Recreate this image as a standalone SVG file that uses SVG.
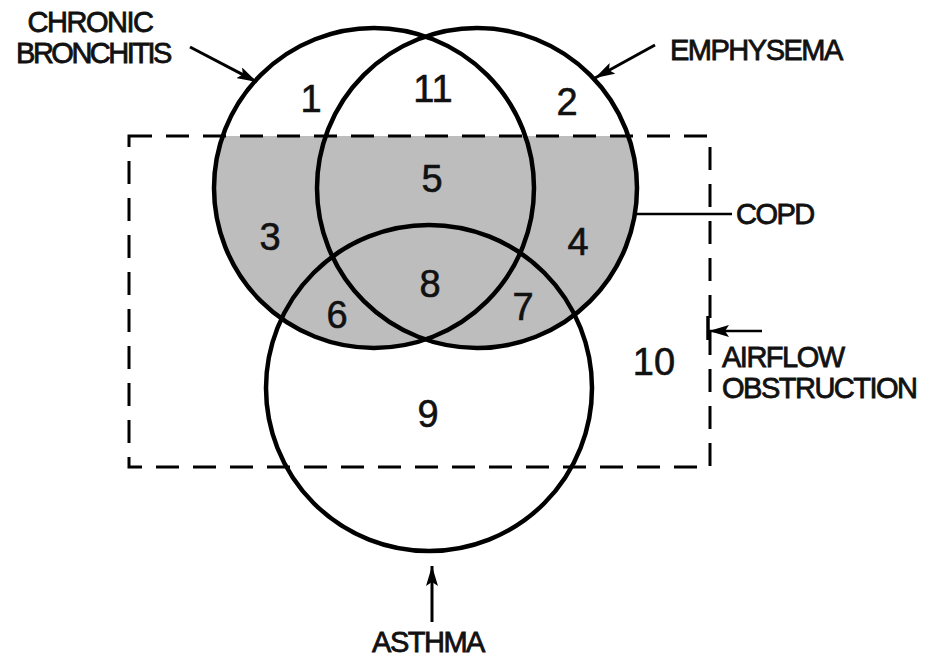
<svg xmlns="http://www.w3.org/2000/svg" width="928" height="657" viewBox="0 0 928 657">
  <style>
    .ring { fill: none; stroke: #000; stroke-width: 4.5; }
    .box { fill: none; stroke: #000; stroke-width: 3; stroke-dasharray: 23 14; }
    .num { font-family: "Liberation Sans", Arial, sans-serif; font-size: 38px; fill: #111; stroke: #111; stroke-width: 0.6; text-anchor: middle; }
    .lbl { font-family: "Liberation Sans", Arial, sans-serif; font-size: 29px; fill: #111; stroke: #111; stroke-width: 0.8; letter-spacing: -1.5px; }
    .lead { stroke: #000; stroke-width: 2.5; fill: none; }
    .arrow { stroke: #000; stroke-width: 3; fill: none; marker-end: url(#head); }
  </style>
  <defs>
    <marker id="head" markerUnits="userSpaceOnUse" markerWidth="22" markerHeight="12" refX="20" refY="6" orient="auto">
      <path d="M0,0 L20,6 L0,12 L4,6 z" fill="#000"/>
    </marker>
    <clipPath id="inBox">
      <rect x="129" y="136" width="581" height="331"/>
    </clipPath>
  </defs>

  <rect width="928" height="657" fill="#fff"/>

  <!-- COPD shading: bronchitis ∪ emphysema within the obstruction box -->
  <g id="copd-area" clip-path="url(#inBox)" fill="#bdbdbd">
    <circle cx="374" cy="188" r="160"/>
    <circle cx="477" cy="188" r="160"/>
  </g>

  <g id="airflow-obstruction">
    <rect class="box" x="129" y="136" width="581" height="331"/>
  </g>

  <g id="chronic-bronchitis">
    <circle class="ring" cx="374" cy="188" r="160"/>
    <text class="lbl" x="90" y="32" text-anchor="middle">CHRONIC</text>
    <text class="lbl" x="93" y="63" text-anchor="middle" style="letter-spacing:-2.5px">BRONCHITIS</text>
  </g>

  <g id="emphysema">
    <circle class="ring" cx="477" cy="188" r="160"/>
    <text class="lbl" x="670" y="60">EMPHYSEMA</text>
  </g>

  <g id="asthma">
    <circle class="ring" cx="429" cy="388" r="163"/>
    <text class="lbl" x="428" y="652" text-anchor="middle">ASTHMA</text>
  </g>

  <g id="copd">
    <text class="lbl" x="736" y="224">COPD</text>
  </g>

  <g id="airflow-label">
    <text class="lbl" x="722" y="367">AIRFLOW</text>
    <text class="lbl" x="722" y="398">OBSTRUCTION</text>
  </g>

  <!-- region numbers -->
  <g id="regions">
    <text class="num" x="311" y="112">1</text>
    <text class="num" x="567" y="115">2</text>
    <text class="num" x="270" y="250">3</text>
    <text class="num" x="578" y="255">4</text>
    <text class="num" x="432" y="192">5</text>
    <text class="num" x="337" y="328">6</text>
    <text class="num" x="523" y="320">7</text>
    <text class="num" x="430" y="297">8</text>
    <text class="num" x="428" y="427">9</text>
    <text class="num" x="654" y="375">10</text>
    <text class="num" x="433" y="102">11</text>
  </g>

  <g id="connectors">
    <line class="arrow" x1="190" y1="47" x2="257" y2="82"/>
    <line class="arrow" x1="655" y1="45" x2="595" y2="78"/>
    <line class="lead" x1="636" y1="214" x2="732" y2="214"/>
    <line class="lead" x1="708" y1="316" x2="708" y2="340" style="stroke-width:3.5"/>
    <line class="arrow" x1="762" y1="331" x2="709" y2="331" style="stroke-width:2.5"/>
    <line class="arrow" x1="432" y1="622" x2="432" y2="566"/>
  </g>
</svg>
